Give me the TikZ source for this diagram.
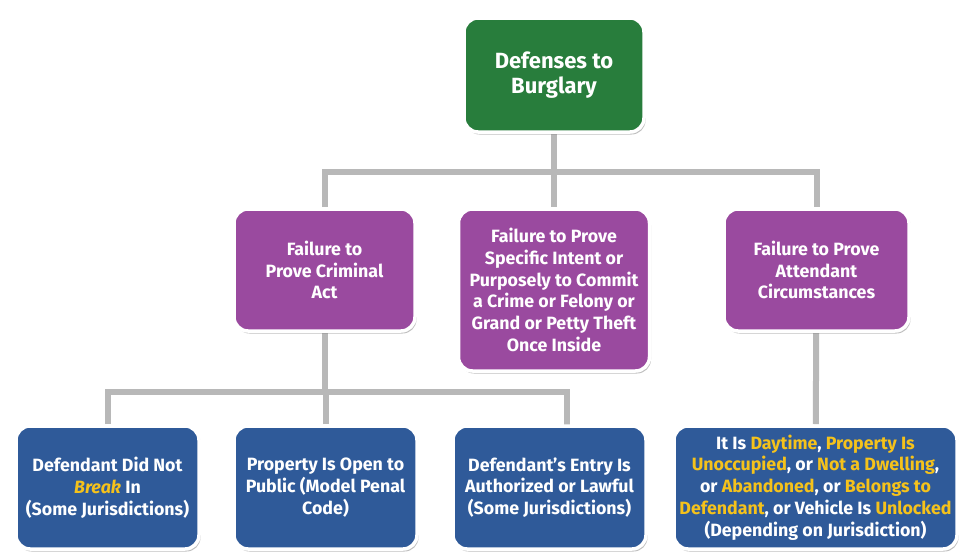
\documentclass[tikz,border=0pt]{standalone}
\usepackage{fontspec}
\setmainfont{Fira Sans}
\usetikzlibrary{positioning,shadows,backgrounds}
\definecolor{burgGreen}{HTML}{287D3C}
\definecolor{failPurple}{HTML}{9A4A9F}
\definecolor{defBlue}{HTML}{2F5A99}
\definecolor{hiYellow}{HTML}{F5C21B}
\definecolor{lineGray}{HTML}{B8B8B8}
\newcommand{\hi}[1]{\textcolor{hiYellow}{#1}}

\begin{document}
\begin{tikzpicture}[x=1pt,y=-1pt,
  every node/.style={font=\bfseries\fontsize{17.8}{21.8}\selectfont},
  card/.style={rectangle, rounded corners=14pt, draw=white, line width=3.5pt,
    text=white, align=center, inner sep=0pt,
    drop shadow={shadow xshift=1.5pt,shadow yshift=-2.5pt,opacity=0.5}},
  conn/.style={draw=lineGray, line width=6pt}]
\useasboundingbox (0,0) rectangle (961,552);
% top
\node[card, fill=burgGreen, minimum width=180pt, minimum height=114pt,
  font=\bfseries\fontsize{22}{25.5}\selectfont] (top) at (554,75) {Defenses to\\Burglary};
% middle row
\node[card, fill=failPurple, minimum width=181pt, minimum height=122pt] (crimact) at (324.5,270)
  {Failure to\\Prove Criminal\\Act};
\node[card, fill=failPurple, minimum width=191pt, minimum height=162pt] (intent) at (554,290)
  {Failure to Prove\\Specific Intent or\\Purposely to Commit\\a Crime or Felony or\\Grand or Petty Theft\\Once Inside};
\node[card, fill=failPurple, minimum width=185pt, minimum height=122pt] (attend) at (816.5,270)
  {Failure to Prove\\Attendant\\Circumstances};
% bottom row
\node[card, fill=defBlue, minimum width=183pt, minimum height=123pt] (noBreak) at (107.5,487.5)
  {Defendant Did Not\\\hi{\textit{Break}} In\\(Some Jurisdictions)};
\node[card, fill=defBlue, minimum width=183pt, minimum height=123pt] (openPub) at (325.5,487.5)
  {Property Is Open to\\Public (Model Penal\\Code)};
\node[card, fill=defBlue, minimum width=193pt, minimum height=123pt] (authEntry) at (549.5,487.5)
  {Defendant's Entry Is\\Authorized or Lawful\\(Some Jurisdictions)};
\node[card, fill=defBlue, minimum width=283pt, minimum height=123pt] (circum) at (815.5,487.5)
  {It Is \hi{Daytime}, \hi{Property Is}\\\hi{Unoccupied}, or \hi{Not a Dwelling},\\or \hi{Abandoned}, or \hi{Belongs to}\\\hi{Defendant}, or Vehicle Is \hi{Unlocked}\\(Depending on Jurisdiction)};
% connectors
\coordinate (busTop) at (554,172);
\coordinate (busLow) at (320,392);
\begin{scope}[on background layer]
\draw[conn] (top) -- (intent);
\draw[conn] (crimact) |- (busTop) -| (attend);
\draw[conn] (crimact) -- (crimact |- busLow);
\draw[conn] (noBreak) |- (busLow) -| ([xshift=17pt]authEntry.center);
\draw[conn] (openPub) -- (openPub |- busLow);
\draw[conn] (attend) -- (circum);
\end{scope}
\end{tikzpicture}
\end{document}
